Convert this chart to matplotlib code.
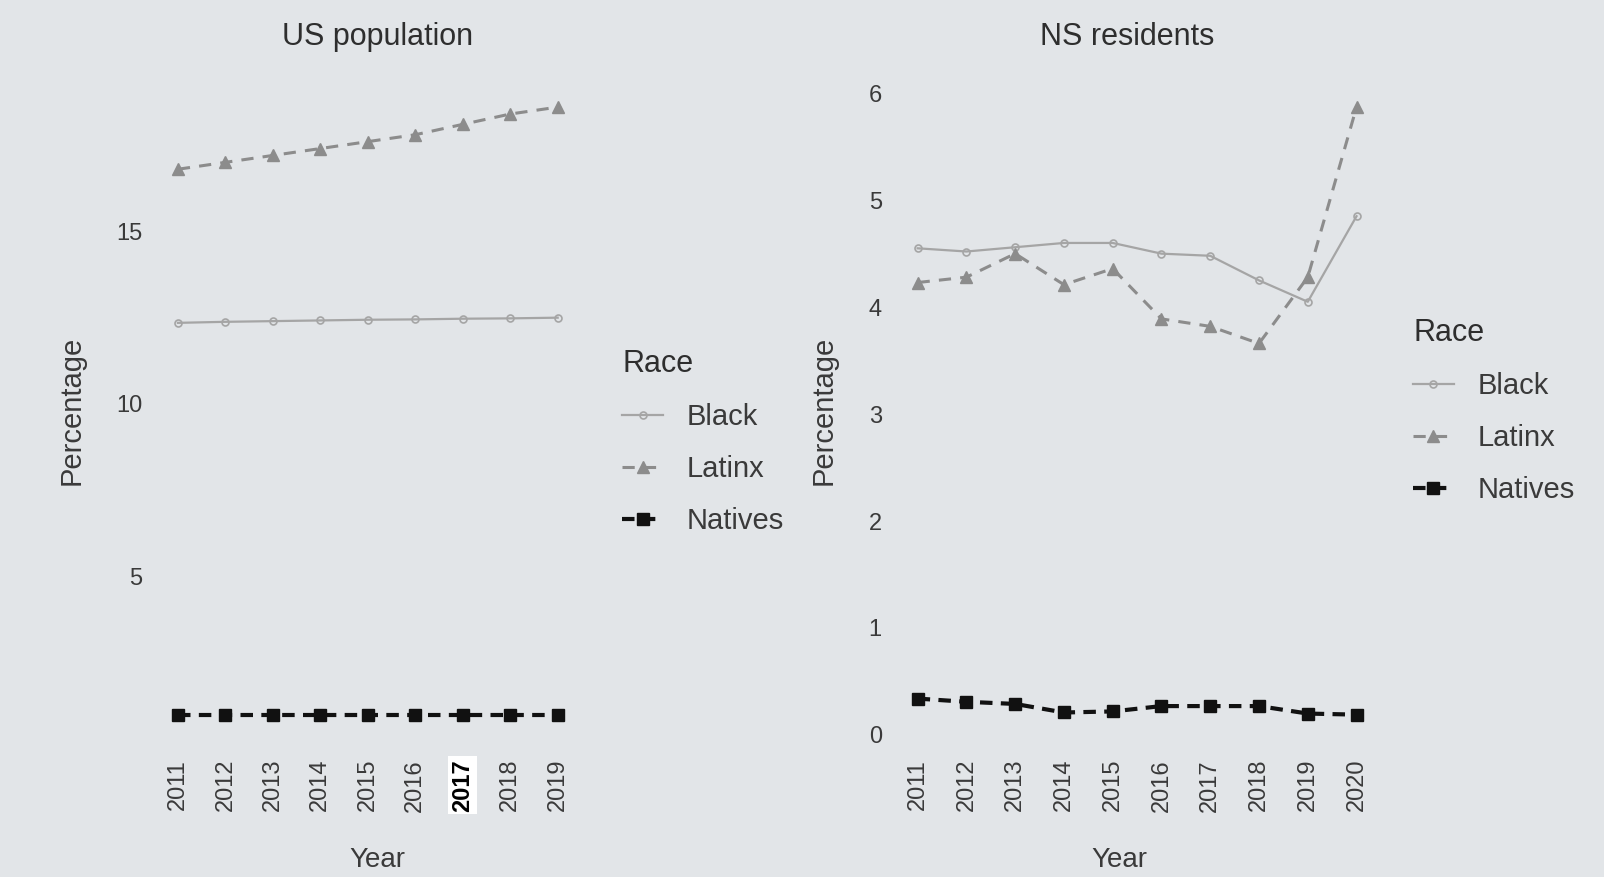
import numpy as np
import matplotlib
matplotlib.use("Agg")
from matplotlib import pyplot as plt

plt.rcParams['font.family'] = ['Liberation Sans', 'DejaVu Sans']

years_us = [2011, 2012, 2013, 2014, 2015, 2016, 2017, 2018, 2019]
us_black = [12.35, 12.38, 12.40, 12.42, 12.44, 12.45, 12.47, 12.48, 12.50]
us_latinx = [16.8, 17.0, 17.2, 17.4, 17.6, 17.8, 18.1, 18.4, 18.6]
us_natives = [1.0, 1.0, 1.0, 1.0, 1.0, 1.0, 1.0, 1.0, 1.0]

years_ns = [2011, 2012, 2013, 2014, 2015, 2016, 2017, 2018, 2019, 2020]
ns_black = [4.55, 4.52, 4.56, 4.60, 4.60, 4.50, 4.48, 4.25, 4.05, 4.85]
ns_latinx = [4.23, 4.28, 4.50, 4.21, 4.36, 3.89, 3.82, 3.66, 4.28, 5.87]
ns_natives = [0.34, 0.31, 0.29, 0.21, 0.22, 0.27, 0.27, 0.27, 0.20, 0.19]

races = ["Black", "Latinx", "Natives"]
us_ticks = [5, 10, 15]
ns_ticks = [0, 1, 2, 3, 4, 5, 6]

bg = '#e2e5e8'
txt = '#3a3a3a'
styles = {
    "Black": dict(color='#a5a5a5', ls='-', lw=1.6, marker='o', ms=5, mfc='none', mew=1.2),
    "Latinx": dict(color='#8c8c8c', ls=(0, (4, 3)), lw=2.2, marker='^', ms=8),
    "Natives": dict(color='#111111', ls=(0, (3, 2)), lw=3, marker='s', ms=8),
}

fig = plt.figure(figsize=(16.04, 8.77), dpi=100, facecolor=bg)
ax1 = fig.add_axes([0.0976, 0.1505, 0.2634, 0.762])
ax2 = fig.add_axes([0.5584, 0.1505, 0.3010, 0.762])


def expand(vals, f):
    lo, hi = min(vals), max(vals)
    d = (hi - lo) * f
    return lo - d, hi + d


def draw(ax, years, series, ticks, title, title_x, leg_xy, xlab_x):
    ax.set_facecolor(bg)
    handles = []
    for r, vals in zip(races, series):
        h, = ax.plot(years, vals, label=r, **styles[r])
        handles.append(h)
    allv = [v for s in series for v in s]
    ax.set_ylim(*expand(allv, 0.05))
    ax.set_xlim(years[0] - 0.45, years[-1] + 0.45)
    ax.set_xticks(years)
    ax.set_xticklabels([str(y) for y in years], rotation=90)
    ax.set_yticks(ticks)
    ax.tick_params(length=0, labelsize=17, colors=txt, pad=10)
    for s in ax.spines.values():
        s.set_visible(False)
    ax.set_xlabel("Year", fontsize=20, color=txt)
    ax.xaxis.set_label_coords(xlab_x, -0.152)
    ax.set_ylabel("Percentage", fontsize=21, color=txt, labelpad=22)
    fig.text(title_x, 0.958, title, ha='center', va='center', fontsize=22, color='#2e2e2e')
    leg = fig.legend(handles=handles, title="Race", loc='upper left',
                     bbox_to_anchor=leg_xy, frameon=False, fontsize=21,
                     title_fontsize=22, labelspacing=0.82, handlelength=1.4,
                     handletextpad=0.8, alignment='left')
    for t in leg.get_texts():
        t.set_color(txt)
    leg.get_title().set_color('#2e2e2e')
    return ax


draw(ax1, years_us, [us_black, us_latinx, us_natives], us_ticks,
     "US population", 0.2353, (0.3715, 0.632), 0.523)
draw(ax2, years_ns, [ns_black, ns_latinx, ns_natives], ns_ticks,
     "NS residents", 0.7030, (0.8646, 0.667), 0.463)

# the scanned page has the 2017 label highlighted
for lab in ax1.get_xticklabels():
    if lab.get_text() == "2017":
        lab.set_color('black')
        lab.set_fontweight('bold')
        lab.set_bbox(dict(facecolor='white', edgecolor='none', pad=2))

fig.savefig("out.png", dpi=100, facecolor=bg)
